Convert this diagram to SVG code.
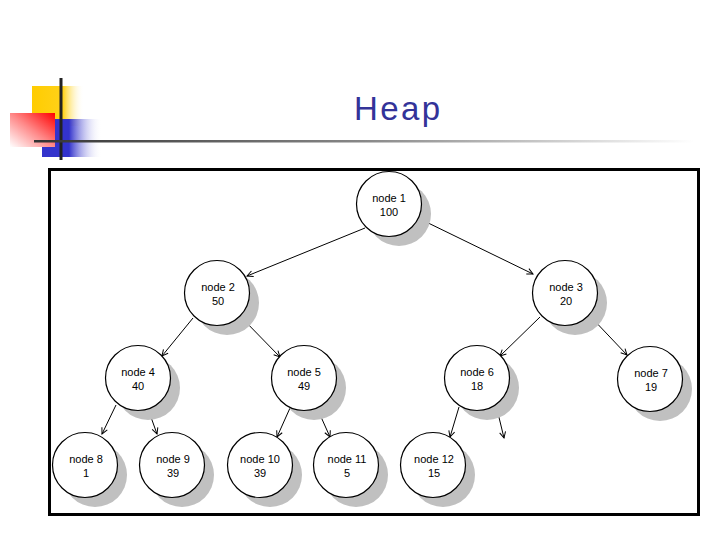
<svg xmlns="http://www.w3.org/2000/svg" width="720" height="540" viewBox="0 0 720 540">
<defs>
<linearGradient id="gy" x1="0" y1="0" x2="1" y2="0"><stop offset="0" stop-color="#FFCC00"/><stop offset="0.6" stop-color="#FFD21A"/><stop offset="1" stop-color="#FFFFFF" stop-opacity="0"/></linearGradient>
<linearGradient id="gb" x1="0" y1="0" x2="1" y2="0"><stop offset="0" stop-color="#3333CC"/><stop offset="0.45" stop-color="#3333CC"/><stop offset="1" stop-color="#FFFFFF" stop-opacity="0"/></linearGradient>
<linearGradient id="gr" x1="1" y1="0" x2="0" y2="1"><stop offset="0" stop-color="#FF0000"/><stop offset="0.5" stop-color="#FF8888"/><stop offset="1" stop-color="#FFFFFF"/></linearGradient>
<linearGradient id="gl" x1="0" y1="0" x2="1" y2="0"><stop offset="0" stop-color="#333333"/><stop offset="0.5" stop-color="#888888"/><stop offset="1" stop-color="#FFFFFF"/></linearGradient>
<marker id="ah" viewBox="0 0 8 8" refX="7" refY="4" markerWidth="8" markerHeight="8" markerUnits="userSpaceOnUse" orient="auto"><path d="M1,1 L7,4 L1,7" fill="none" stroke="#000" stroke-width="1"/></marker>
<style>
.sh{fill:#C0C0C0}
.nd{fill:#FFFFFF;stroke:#000;stroke-width:1.2}
.tx{font-family:"Liberation Sans",Arial,sans-serif;font-size:11px;fill:#000;text-anchor:middle}
.ed{stroke:#000;stroke-width:1;fill:none;marker-end:url(#ah)}
</style>
</defs>
<rect width="720" height="540" fill="#FFFFFF"/>
<g id="logo">
<rect x="32" y="86" width="52" height="40" fill="url(#gy)"/>
<rect x="42" y="119" width="60" height="38" fill="url(#gb)"/>
<rect x="10" y="113" width="45" height="34" fill="url(#gr)"/>
<rect x="59.5" y="78" width="3" height="82" fill="#222222"/>
</g>
<rect x="34" y="140" width="660" height="2.5" fill="url(#gl)"/>
<text x="397" y="120" font-family="'Liberation Sans',Arial,sans-serif" font-size="33" fill="#333399" text-anchor="middle" textLength="86">Heap</text>
<rect x="49.5" y="169.5" width="649" height="345" fill="#FFFFFF" stroke="#000" stroke-width="3"/>
<g id="connectors">
<line class="ed" x1="365" y1="228" x2="247" y2="276"/>
<line class="ed" x1="420" y1="219" x2="533" y2="274"/>
<line class="ed" x1="193" y1="318" x2="162" y2="356"/>
<line class="ed" x1="240" y1="316" x2="280" y2="357"/>
<line class="ed" x1="540" y1="317" x2="500" y2="356"/>
<line class="ed" x1="590" y1="316" x2="627" y2="355"/>
<line class="ed" x1="116" y1="405" x2="102" y2="434"/>
<line class="ed" x1="147" y1="406" x2="157" y2="434"/>
<line class="ed" x1="290" y1="408" x2="277" y2="437"/>
<line class="ed" x1="317" y1="408" x2="330" y2="437"/>
<line class="ed" x1="459" y1="407" x2="450" y2="437"/>
<line class="ed" x1="496" y1="405" x2="504" y2="438"/>
</g>
<g id="node1"><circle class="sh" cx="399" cy="214" r="32"/><circle class="nd" cx="389" cy="204" r="32.5"/><text class="tx" x="389" y="202">node 1</text><text class="tx" x="389" y="215.5">100</text></g>
<g id="node2"><circle class="sh" cx="227" cy="303" r="32"/><circle class="nd" cx="217" cy="293" r="32.5"/><text class="tx" x="218" y="291">node 2</text><text class="tx" x="218" y="304.5">50</text></g>
<g id="node3"><circle class="sh" cx="575" cy="303" r="32"/><circle class="nd" cx="565" cy="293" r="32.5"/><text class="tx" x="566" y="291">node 3</text><text class="tx" x="566" y="304.5">20</text></g>
<g id="node4"><circle class="sh" cx="148" cy="388" r="32"/><circle class="nd" cx="138" cy="378" r="32.5"/><text class="tx" x="138" y="376">node 4</text><text class="tx" x="138" y="389.5">40</text></g>
<g id="node5"><circle class="sh" cx="314" cy="388" r="32"/><circle class="nd" cx="304" cy="378" r="32.5"/><text class="tx" x="304" y="376">node 5</text><text class="tx" x="304" y="389.5">49</text></g>
<g id="node6"><circle class="sh" cx="487" cy="388" r="32"/><circle class="nd" cx="477" cy="378" r="32.5"/><text class="tx" x="477" y="376">node 6</text><text class="tx" x="477" y="389.5">18</text></g>
<g id="node7"><circle class="sh" cx="660" cy="389" r="32"/><circle class="nd" cx="650" cy="379" r="32.5"/><text class="tx" x="651" y="377">node 7</text><text class="tx" x="651" y="390.5">19</text></g>
<g id="node8"><circle class="sh" cx="95" cy="475" r="32"/><circle class="nd" cx="85" cy="465" r="32.5"/><text class="tx" x="86" y="463">node 8</text><text class="tx" x="86" y="476.5">1</text></g>
<g id="node9"><circle class="sh" cx="182" cy="475" r="32"/><circle class="nd" cx="172" cy="465" r="32.5"/><text class="tx" x="173" y="463">node 9</text><text class="tx" x="173" y="476.5">39</text></g>
<g id="node10"><circle class="sh" cx="270" cy="475" r="32"/><circle class="nd" cx="260" cy="465" r="32.5"/><text class="tx" x="260" y="463">node 10</text><text class="tx" x="260" y="476.5">39</text></g>
<g id="node11"><circle class="sh" cx="356" cy="475" r="32"/><circle class="nd" cx="346" cy="465" r="32.5"/><text class="tx" x="347" y="463">node 11</text><text class="tx" x="347" y="476.5">5</text></g>
<g id="node12"><circle class="sh" cx="443" cy="475" r="32"/><circle class="nd" cx="433" cy="465" r="32.5"/><text class="tx" x="434" y="463">node 12</text><text class="tx" x="434" y="476.5">15</text></g>
</svg>
